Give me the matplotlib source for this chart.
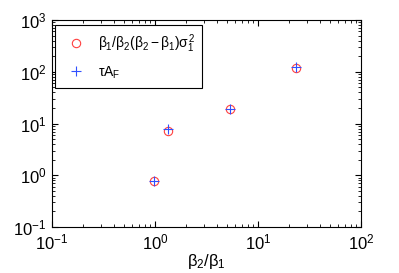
import numpy as np
import matplotlib
matplotlib.use('Agg')
import matplotlib.pyplot as plt

plt.rcParams['font.family'] = ['Liberation Sans', 'DejaVu Sans']
plt.rcParams['mathtext.fontset'] = 'custom'
plt.rcParams['mathtext.rm'] = 'Liberation Sans'
plt.rcParams['mathtext.it'] = 'Liberation Sans'
plt.rcParams['mathtext.bf'] = 'Liberation Sans'

# data
ratio = [0.98, 1.33, 5.3, 23.5]
sigma_term = [0.77, 7.1, 19.1, 118]
tau_af = [0.77, 8.0, 19.1, 124]

fig = plt.figure(figsize=(3.99, 2.73), dpi=100)
ax = fig.add_axes([52/399, 1-227/273, 309/399, 207/273])

ax.plot(ratio, sigma_term, 'o', mfc='none', mec='#ff4040', ms=6, mew=0.8,
        label=r'$\beta_1/\beta_2(\beta_2-\beta_1)\sigma_1^2$')
ax.plot(ratio, tau_af, '+', color='#3050ff', ms=7, mew=0.8,
        label=r'$\tau A_F$')

ax.set_xscale('log')
ax.set_yscale('log')
ax.set_xlim(0.1, 100)
ax.set_ylim(0.1, 1000)
ax.set_xlabel(r'$\beta_2/\beta_1$', fontsize=12, labelpad=0)

ax.tick_params(which='both', direction='in', top=True, right=True, labelsize=12)
ax.tick_params(axis='x', pad=4)
ax.tick_params(axis='y', pad=4)
ax.tick_params(which='major', length=4)
ax.tick_params(which='minor', length=2)
for s in ax.spines.values():
    s.set_linewidth(0.8)

leg = ax.legend(loc='upper left', bbox_to_anchor=(0.01, 0.976), borderaxespad=0,
                fontsize=10, fancybox=False, edgecolor='black', framealpha=1,
                handletextpad=0.6, borderpad=0.5, labelspacing=0.7)
leg.get_frame().set_linewidth(0.8)

fig.savefig('out.png', dpi=100)
